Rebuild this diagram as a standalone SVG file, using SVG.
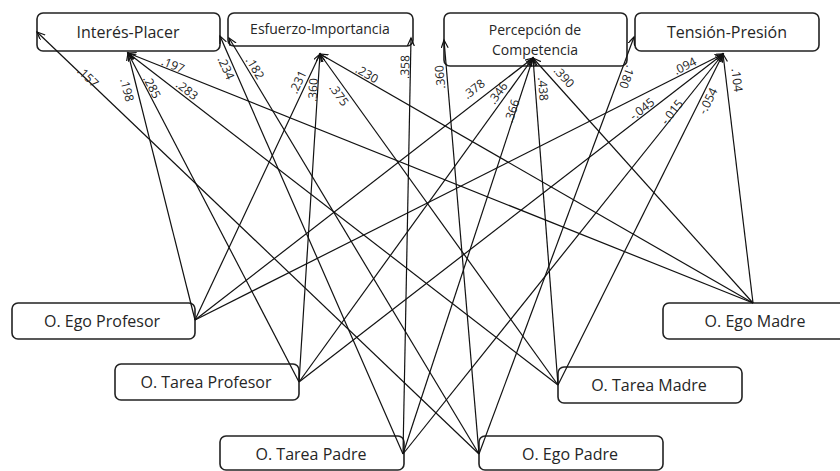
<svg xmlns="http://www.w3.org/2000/svg" width="840" height="471" viewBox="0 0 840 471">
<style>
.box{fill:#fff;stroke:#222;stroke-width:1.6}
.nt{font-family:"Open Sans","Noto Sans",sans-serif;fill:#262626;text-anchor:middle}
.big{font-size:16px}
.small{font-size:14px}
.cn line{stroke:#111;stroke-width:1.2;marker-end:url(#ah)}
.lb{font-family:"Open Sans","Noto Sans",sans-serif;font-size:12px;fill:#222;text-anchor:middle}
</style>
<defs>
<marker id="ah" markerUnits="userSpaceOnUse" markerWidth="10" markerHeight="10" refX="8" refY="3.5" orient="auto">
<path d="M0,0 L8,3.5 L0,7" fill="none" stroke="#111" stroke-width="1.2"/>
</marker>
</defs>
<rect width="840" height="471" fill="#fff"/>
<g id="interes"><rect class="box" x="37" y="13" width="183" height="38" rx="6"/><text class="nt big" x="128" y="38">Interés-Placer</text></g>
<g id="esfuerzo"><rect class="box" x="228" y="13" width="185" height="33" rx="6"/><text class="nt small" x="320" y="34">Esfuerzo-Importancia</text></g>
<g id="percepcion"><rect class="box" x="444" y="13" width="183" height="53" rx="6"/><text class="nt small" x="535" y="35">Percepción de</text><text class="nt small" x="535" y="55">Competencia</text></g>
<g id="tension"><rect class="box" x="635" y="13" width="184" height="38" rx="6"/><text class="nt big" x="727" y="38">Tensión-Presión</text></g>
<g id="egoProfesor"><rect class="box" x="12" y="303" width="183" height="36" rx="6"/><text class="nt big" x="102" y="327">O. Ego Profesor</text></g>
<g id="tareaProfesor"><rect class="box" x="115" y="364" width="184" height="36" rx="6"/><text class="nt big" x="206" y="388">O. Tarea Profesor</text></g>
<g id="tareaPadre"><rect class="box" x="220" y="436" width="184" height="34" rx="6"/><text class="nt big" x="311" y="460">O. Tarea Padre</text></g>
<g id="egoPadre"><rect class="box" x="479" y="436" width="184" height="34" rx="6"/><text class="nt big" x="570" y="460">O. Ego Padre</text></g>
<g id="tareaMadre"><rect class="box" x="558" y="367" width="184" height="36" rx="6"/><text class="nt big" x="649" y="391">O. Tarea Madre</text></g>
<g id="egoMadre"><rect class="box" x="663" y="303" width="184" height="36" rx="6"/><text class="nt big" x="755" y="327">O. Ego Madre</text></g>
<g id="connectors" class="cn">
<line x1="195" y1="320" x2="128" y2="53"/>
<line x1="195" y1="320" x2="320" y2="54"/>
<line x1="195" y1="320" x2="533" y2="58"/>
<line x1="195" y1="320" x2="723" y2="54"/>
<line x1="299" y1="382" x2="128" y2="53"/>
<line x1="299" y1="382" x2="320" y2="54"/>
<line x1="299" y1="382" x2="533" y2="58"/>
<line x1="299" y1="382" x2="723" y2="54"/>
<line x1="403" y1="454" x2="220" y2="36"/>
<line x1="403" y1="454" x2="411" y2="38"/>
<line x1="403" y1="454" x2="533" y2="58"/>
<line x1="403" y1="454" x2="723" y2="54"/>
<line x1="479" y1="454" x2="37" y2="32"/>
<line x1="479" y1="454" x2="229" y2="38"/>
<line x1="479" y1="454" x2="444" y2="40"/>
<line x1="479" y1="454" x2="634" y2="37"/>
<line x1="558" y1="385" x2="128" y2="53"/>
<line x1="558" y1="385" x2="320" y2="54"/>
<line x1="558" y1="385" x2="533" y2="58"/>
<line x1="558" y1="385" x2="723" y2="54"/>
<line x1="753" y1="303" x2="128" y2="53"/>
<line x1="753" y1="303" x2="320" y2="54"/>
<line x1="753" y1="303" x2="533" y2="58"/>
<line x1="753" y1="303" x2="723" y2="54"/>
</g>
<g id="labels">
<text class="lb" dy=".35em" transform="translate(88,77) rotate(44)">.157</text>
<text class="lb" dy=".35em" transform="translate(127,90) rotate(76)">.198</text>
<text class="lb" dy=".35em" transform="translate(152,87) rotate(62.5)">.285</text>
<text class="lb" dy=".35em" transform="translate(187,90) rotate(37.7)">.283</text>
<text class="lb" dy=".35em" transform="translate(173,65) rotate(21.9)">.197</text>
<text class="lb" dy=".35em" transform="translate(226,68) rotate(66)">.234</text>
<text class="lb" dy=".35em" transform="translate(255,68) rotate(59)">.182</text>
<text class="lb" dy=".35em" transform="translate(298,82) rotate(-64.8)">.231</text>
<text class="lb" dy=".35em" transform="translate(313,90) rotate(-86.3)">.360</text>
<text class="lb" dy=".35em" transform="translate(339,95) rotate(54.3)">.375</text>
<text class="lb" dy=".35em" transform="translate(367,74) rotate(29.9)">.230</text>
<text class="lb" dy=".35em" transform="translate(405,67) rotate(-88.9)">.358</text>
<text class="lb" dy=".35em" transform="translate(440,77) rotate(-94.8)">.360</text>
<text class="lb" dy=".35em" transform="translate(474,89) rotate(-37.8)">.378</text>
<text class="lb" dy=".35em" transform="translate(498,93) rotate(-54.2)">.346</text>
<text class="lb" dy=".35em" transform="translate(512,111) rotate(-71.8)">.366</text>
<text class="lb" dy=".35em" transform="translate(543,89) rotate(85.6)">.438</text>
<text class="lb" dy=".35em" transform="translate(564,77) rotate(48)">.390</text>
<text class="lb" dy=".35em" transform="translate(627,77) rotate(110)">.180</text>
<text class="lb" dy=".35em" transform="translate(685,66) rotate(-26.7)">.094</text>
<text class="lb" dy=".35em" transform="translate(642,109) rotate(-37.7)">-.045</text>
<text class="lb" dy=".35em" transform="translate(672,112) rotate(-51.3)">-.015</text>
<text class="lb" dy=".35em" transform="translate(708,101) rotate(-63.5)">-.054</text>
<text class="lb" dy=".35em" transform="translate(737,80) rotate(83.1)">.104</text>
</g>
</svg>
